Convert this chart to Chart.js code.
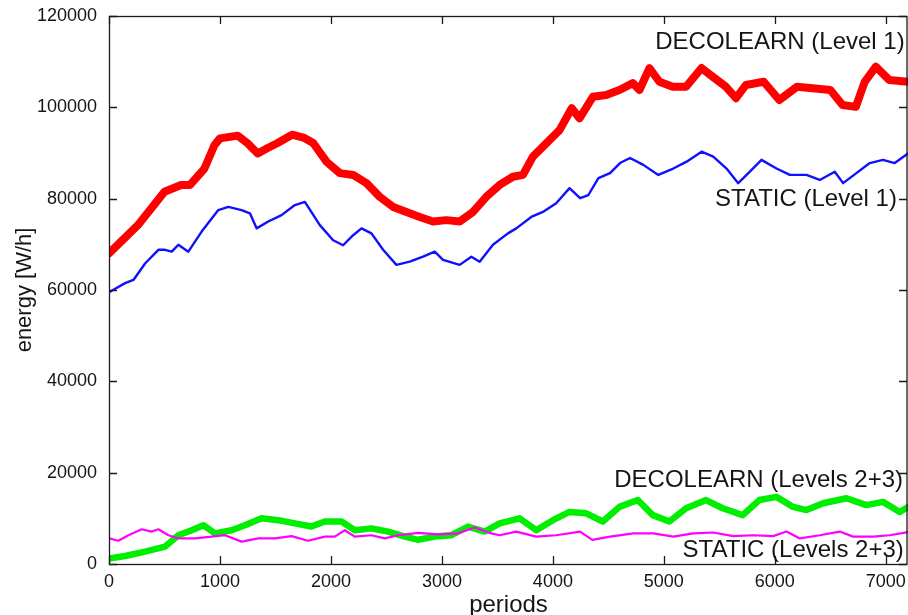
<!DOCTYPE html>
<html>
<head>
<meta charset="utf-8">
<script src="https://cdn.jsdelivr.net/npm/chart.js@4/dist/chart.umd.min.js"></script>
<style>
  html, body { margin: 0; padding: 0; background: #fff; }
  #wrap { width: 908px; height: 615px; position: relative; }
</style>
</head>
<body>
<div id="wrap"><canvas id="c" width="908" height="615"></canvas></div>
<script>
// Energy per period, four simulation runs
const decoL1Periods = [0, 260, 500, 650, 730, 860, 950, 1000, 1160, 1250, 1340, 1430, 1520, 1650, 1760, 1840, 1960, 2080, 2200, 2320, 2440, 2560, 2680, 2800, 2920, 3040, 3160, 3280, 3400, 3520, 3640, 3730, 3820, 3940, 4060, 4170, 4240, 4360, 4480, 4600, 4720, 4780, 4870, 4960, 5080, 5200, 5340, 5440, 5560, 5650, 5740, 5900, 6040, 6200, 6340, 6500, 6610, 6730, 6810, 6910, 7030, 7200];
const decoL1Energy = [68000, 74200, 81500, 83000, 83000, 86600, 91700, 93200, 93800, 92100, 89900, 91100, 92200, 94000, 93300, 92200, 88100, 85600, 85200, 83400, 80400, 78200, 77100, 76000, 75000, 75300, 75000, 77100, 80400, 83000, 84800, 85200, 89200, 92100, 95000, 99800, 97600, 102300, 102700, 103800, 105300, 103800, 108600, 105600, 104500, 104500, 108600, 106700, 104500, 102000, 104900, 105600, 101600, 104500, 104200, 103800, 100500, 100100, 105600, 108900, 106000, 105600];

const staticL1Periods = [0, 145, 220, 325, 445, 505, 565, 625, 715, 835, 985, 1075, 1195, 1270, 1330, 1435, 1555, 1675, 1765, 1900, 2020, 2110, 2200, 2275, 2365, 2470, 2590, 2710, 2830, 2935, 3010, 3160, 3265, 3340, 3460, 3595, 3670, 3805, 3910, 4030, 4150, 4245, 4320, 4410, 4515, 4605, 4695, 4815, 4950, 5085, 5205, 5340, 5445, 5565, 5670, 5775, 5880, 6015, 6135, 6285, 6405, 6540, 6615, 6735, 6855, 6975, 7080, 7200];
const staticL1Energy = [59500, 61500, 62200, 65800, 68800, 68800, 68400, 69900, 68400, 72800, 77500, 78200, 77500, 76800, 73500, 75000, 76400, 78600, 79300, 74200, 70900, 69800, 72000, 73500, 72400, 68800, 65500, 66200, 67300, 68400, 66600, 65500, 67300, 66200, 69900, 72400, 73500, 76000, 77100, 79000, 82300, 80100, 80800, 84500, 85600, 87800, 88900, 87400, 85200, 86600, 88100, 90300, 89200, 86600, 83400, 85900, 88500, 86600, 85200, 85200, 84100, 85900, 83400, 85600, 87800, 88500, 87800, 89900];

const decoL23Periods = [0, 145, 325, 505, 625, 745, 850, 955, 1105, 1225, 1375, 1525, 1675, 1825, 1945, 2095, 2215, 2365, 2515, 2665, 2785, 2935, 3085, 3235, 3385, 3520, 3700, 3850, 4000, 4150, 4300, 4450, 4600, 4765, 4900, 5050, 5200, 5380, 5530, 5710, 5860, 6015, 6165, 6285, 6435, 6645, 6825, 6975, 7125, 7200];
const decoL23Energy = [1200, 1750, 2700, 3800, 6300, 7400, 8500, 6700, 7400, 8500, 10000, 9600, 8900, 8200, 9300, 9300, 7400, 7800, 7100, 6000, 5300, 6000, 6300, 8200, 7100, 8900, 10000, 7400, 9600, 11400, 11100, 9300, 12500, 14000, 10700, 9300, 12200, 14000, 12200, 10700, 14000, 14700, 12500, 11800, 13300, 14400, 12900, 13600, 11400, 12500];

const staticL23Periods = [0, 85, 175, 295, 385, 445, 535, 625, 775, 925, 1045, 1195, 1345, 1495, 1645, 1795, 1945, 2035, 2125, 2215, 2365, 2485, 2605, 2785, 2965, 3145, 3295, 3445, 3520, 3670, 3850, 4030, 4245, 4355, 4515, 4725, 4905, 5085, 5265, 5445, 5625, 5805, 5985, 6105, 6225, 6405, 6585, 6705, 6885, 7035, 7200];
const staticL23Energy = [5600, 5100, 6300, 7600, 7100, 7600, 6300, 5600, 5600, 6000, 6300, 4900, 5600, 5600, 6100, 5100, 6000, 6000, 7400, 6000, 6300, 5600, 6300, 6800, 6500, 6700, 8000, 6700, 6300, 7100, 6000, 6300, 7100, 5300, 6000, 6700, 6700, 6000, 6700, 6900, 6100, 6300, 6100, 7100, 5600, 6300, 7100, 6000, 6000, 6300, 7000];

// Axis ranges and tick values
const xRange = [0, 7200];
const xTickValues = [0, 1000, 2000, 3000, 4000, 5000, 6000, 7000];
const yRange = [0, 120000];
const yTickValues = [0, 20000, 40000, 60000, 80000, 100000, 120000];

// Curve captions, anchored in data space (right end of text)
const captionTexts = ['DECOLEARN (Level 1)', 'STATIC (Level 1)', 'DECOLEARN (Levels 2+3)', 'STATIC (Levels 2+3)'];
const captionPeriods = [7170, 7100, 7155, 7162];
const captionEnergy = [114300, 79900, 18400, 2900];

const FONT = "'Liberation Sans', Arial, Helvetica, sans-serif";

function toPoints(xs, ys) {
  return xs.map((x, i) => ({ x: x, y: ys[i] }));
}

const whiteBg = {
  id: 'whiteBg',
  beforeDraw(chart) {
    const ctx = chart.ctx;
    ctx.save();
    ctx.fillStyle = '#ffffff';
    ctx.fillRect(0, 0, chart.width, chart.height);
    ctx.restore();
  }
};

// Box frame with inward ticks on all four sides, plus curve captions
const frameAndCaptions = {
  id: 'frameAndCaptions',
  afterDraw(chart) {
    const ctx = chart.ctx;
    const a = chart.chartArea;
    const xs = chart.scales.x, ys = chart.scales.y;
    const len = 8;
    const right = a.right - 1;
    ctx.save();
    ctx.strokeStyle = '#1a1a1a';
    ctx.lineWidth = 1.3;
    ctx.beginPath();
    ys.ticks.forEach(t => {
      const py = Math.round(ys.getPixelForValue(t.value)) + 0.5;
      ctx.moveTo(a.left, py); ctx.lineTo(a.left + len, py);
      ctx.moveTo(right, py); ctx.lineTo(right - len, py);
    });
    xs.ticks.forEach(t => {
      const px = Math.round(xs.getPixelForValue(t.value)) + 0.5;
      ctx.moveTo(px, a.bottom); ctx.lineTo(px, a.bottom - len);
      ctx.moveTo(px, a.top); ctx.lineTo(px, a.top + len);
    });
    ctx.stroke();
    ctx.strokeRect(a.left + 0.5, a.top + 0.5, right - a.left - 0.5, a.bottom - a.top);

    ctx.fillStyle = '#151515';
    ctx.font = '24px ' + FONT;
    ctx.textAlign = 'right';
    ctx.textBaseline = 'middle';
    captionTexts.forEach((txt, i) => {
      ctx.fillText(txt, xs.getPixelForValue(captionPeriods[i]), ys.getPixelForValue(captionEnergy[i]));
    });
    ctx.restore();
  }
};

const lineStyle = { pointRadius: 0, tension: 0, borderJoinStyle: 'round', borderCapStyle: 'round', fill: false };

new Chart(document.getElementById('c'), {
  type: 'line',
  data: {
    datasets: [
      Object.assign({ label: 'STATIC (Levels 2+3)', data: toPoints(staticL23Periods, staticL23Energy), borderColor: '#ff00ff', borderWidth: 2.2 }, lineStyle),
      Object.assign({ label: 'DECOLEARN (Levels 2+3)', data: toPoints(decoL23Periods, decoL23Energy), borderColor: '#00ee00', borderWidth: 6.5 }, lineStyle),
      Object.assign({ label: 'STATIC (Level 1)', data: toPoints(staticL1Periods, staticL1Energy), borderColor: '#1010ff', borderWidth: 2.4 }, lineStyle),
      Object.assign({ label: 'DECOLEARN (Level 1)', data: toPoints(decoL1Periods, decoL1Energy), borderColor: '#ff0000', borderWidth: 8 }, lineStyle)
    ]
  },
  options: {
    responsive: false,
    animation: false,
    events: [],
    layout: { padding: { top: 16, right: 0, bottom: 0, left: 0 } },
    plugins: { legend: { display: false }, tooltip: { enabled: false } },
    scales: {
      x: {
        type: 'linear',
        min: xRange[0], max: xRange[1],
        grid: { display: false, drawTicks: false },
        border: { display: false },
        afterBuildTicks(scale) { scale.ticks = xTickValues.map(v => ({ value: v })); },
        ticks: { autoSkip: false, maxRotation: 0, padding: 7, color: '#151515', font: { family: FONT, size: 18 }, callback: v => String(v) },
        title: { display: true, text: 'periods', color: '#151515', font: { family: FONT, size: 24, lineHeight: 1 }, padding: { top: 0, bottom: -2 } },
        afterFit(scale) { scale.height = 51; scale.paddingLeft = 0; scale.paddingRight = 0; }
      },
      y: {
        type: 'linear',
        min: yRange[0], max: yRange[1],
        grid: { display: false, drawTicks: false },
        border: { display: false },
        afterBuildTicks(scale) { scale.ticks = yTickValues.map(v => ({ value: v })); },
        ticks: { padding: 12, color: '#151515', font: { family: FONT, size: 18 }, callback: v => String(v) },
        title: { display: true, text: 'energy [W/h]', color: '#151515', font: { family: FONT, size: 22, lineHeight: 1 }, padding: { top: 14, bottom: 0 } },
        afterFit(scale) { scale.width = 109; scale.paddingTop = 0; scale.paddingBottom = 0; }
      }
    }
  },
  plugins: [whiteBg, frameAndCaptions]
});
</script>
</body>
</html>
